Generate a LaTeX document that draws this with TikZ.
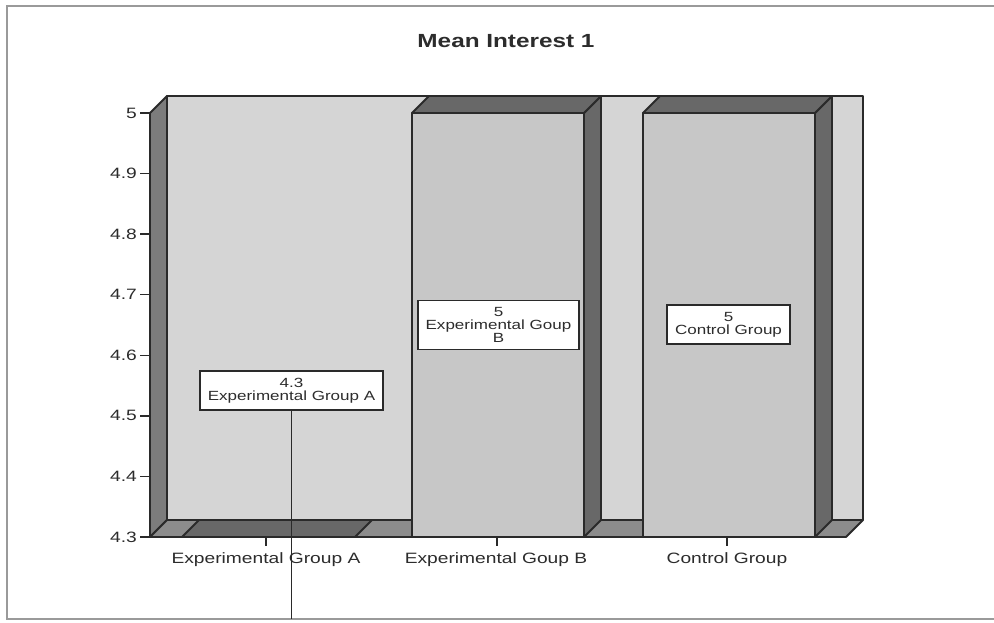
\documentclass[tikz,border=0pt]{standalone}
\usepackage{fontspec}
\setmainfont{Liberation Sans}
\newfontfamily\chartfont[FakeStretch=1.28]{Liberation Sans}

\definecolor{wallgray}{HTML}{D5D5D5}
\definecolor{barfront}{HTML}{C7C7C7}
\definecolor{sidegray}{HTML}{686868}
\definecolor{leftgray}{HTML}{7C7C7C}
\definecolor{floorgray}{HTML}{8C8C8C}
\definecolor{edgegray}{HTML}{2A2A2A}
\definecolor{framegray}{HTML}{9A9A9A}
\definecolor{inkgray}{HTML}{2C2C2C}

\tikzset{
  face/.style={draw=edgegray, line width=1.8pt, line join=round},
  ticklabel/.style={font=\chartfont\fontsize{15}{15}\selectfont, text=inkgray, anchor=east, inner sep=0pt},
  catlabel/.style={font=\chartfont\fontsize{15}{15}\selectfont, text=inkgray, anchor=base, inner sep=0pt},
  valuebox/.style={draw=edgegray, fill=white, line width=1.8pt, align=center,
    inner xsep=8pt, inner ysep=7pt, font=\chartfont\fontsize{13.3}{13}\selectfont, text=inkgray},
}

\begin{document}
\begin{tikzpicture}[x=1pt, y=-1pt]
  \useasboundingbox (0,0) rectangle (994,623);
  \fill[white] (0,0) rectangle (994,623);
  \draw[framegray, line width=2pt] (994,6) -- (7,6) -- (7,619) -- (994,619);

  % title
  \node[font=\chartfont\bfseries\fontsize{19}{19}\selectfont, text=inkgray, anchor=base] (title) at (506,48) {Mean Interest 1};

  % walls and floor
  \filldraw[face, fill=wallgray] (167,96) rectangle (863,520);
  \filldraw[face, fill=leftgray] (150,113) -- (167,96) -- (167,520) -- (150,537) -- cycle;
  \filldraw[face, fill=floorgray] (150,537) -- (167,520) -- (863,520) -- (846,537) -- cycle;

  % bars
  \filldraw[face, fill=sidegray] (182,537) -- (199,520) -- (372,520) -- (355,537) -- cycle;
  \filldraw[face, fill=barfront] (412,113) rectangle (584,537);
  \filldraw[face, fill=sidegray] (584,113) -- (601,96) -- (601,520) -- (584,537) -- cycle;
  \filldraw[face, fill=sidegray] (412,113) -- (429,96) -- (601,96) -- (584,113) -- cycle;
  \filldraw[face, fill=barfront] (643,113) rectangle (815,537);
  \filldraw[face, fill=sidegray] (815,113) -- (832,96) -- (832,520) -- (815,537) -- cycle;
  \filldraw[face, fill=sidegray] (643,113) -- (660,96) -- (832,96) -- (815,113) -- cycle;

  % axis ticks
  \draw[edgegray, line width=1.5pt]
    (140,113) -- (150,113)
    (140,173.6) -- (150,173.6)
    (140,234.1) -- (150,234.1)
    (140,294.7) -- (150,294.7)
    (140,355.3) -- (150,355.3)
    (140,415.9) -- (150,415.9)
    (140,476.4) -- (150,476.4)
    (140,537) -- (150,537)
    (266,537) -- (266,546)
    (497,537) -- (497,546)
    (727,537) -- (727,546);
  \path[ticklabel]
    (137,113) node (tickfive){5}
    (137,173.6) node (ticknine){4.9}
    (137,234.1) node (tickeight){4.8}
    (137,294.7) node (tickseven){4.7}
    (137,355.3) node (ticksix){4.6}
    (137,415.9) node (tickhalf){4.5}
    (137,476.4) node (tickfour){4.4}
    (137,537) node (tickthree){4.3};
  \path[catlabel]
    (266,563) node (groupA){Experimental Group A}
    (496,563) node (groupB){Experimental Goup B}
    (727,563) node (control){Control Group};

  % value labels
  \node[valuebox] (labelA) at (291.5,390.5) {4.3\\Experimental Group A};
  \node[valuebox] (labelB) at (498.5,325) {5\\Experimental Goup\\B};
  \node[valuebox] (labelC) at (728.5,324.5) {5\\Control Group};
  \coordinate (leaderend) at (291.5,619);
  \draw[edgegray, line width=1.8pt] (labelA.south) -- (labelA.south |- leaderend);
\end{tikzpicture}
\end{document}
